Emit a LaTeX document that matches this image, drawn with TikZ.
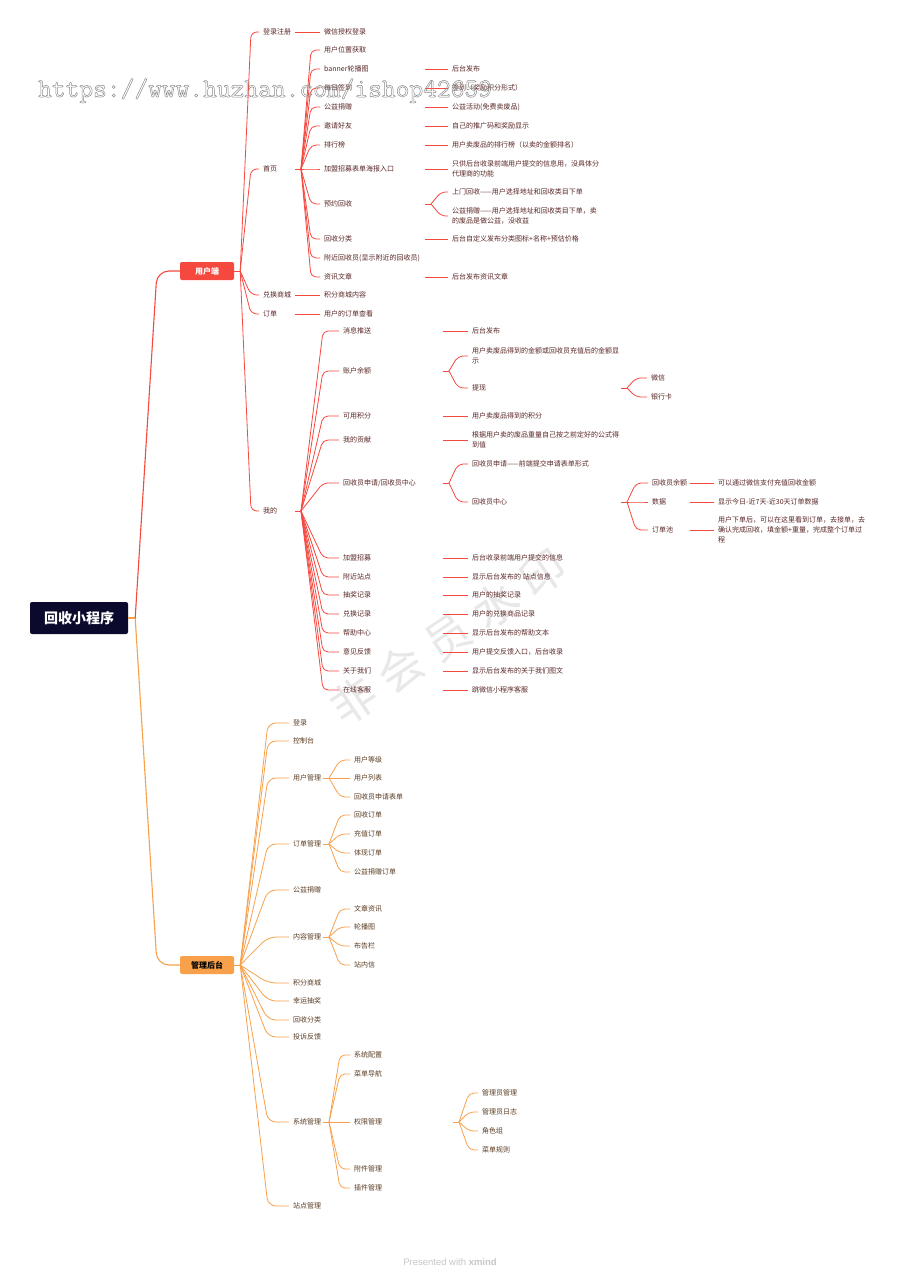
\documentclass[tikz,border=0pt]{standalone}
\usepackage{fontspec}
\setmainfont{Noto Sans CJK SC}
\newfontfamily\footfont{Liberation Sans}
\definecolor{ured}{HTML}{F5483F}
\definecolor{aora}{HTML}{F8A04A}
\definecolor{rootc}{HTML}{0B0A2C}
\definecolor{utext}{HTML}{5A2626}
\definecolor{atext}{HTML}{5A3C22}
\definecolor{wmc}{HTML}{E8E8E8}
\newcommand\mmstub[3]{\draw[#1] (#2 |- #3.west) -- ++(6,0) coordinate (#3-s);}
\newcommand\mmfan[4]{\draw[rounded corners=5pt,#1] (#2-s) -- (#3 |- #4.west) -- ([xshift=-4pt]#4.west);}
\newcommand\mmlink[4]{\draw[#1] (#2 |- #3.west) -- ([xshift=-4pt]#4.west);}
\begin{document}
\begin{tikzpicture}[x=1pt,y=-1pt,
  ut/.style={anchor=west,inner sep=0pt,text=utext,font=\fontsize{7}{10}\selectfont,align=left},
  adt/.style={anchor=west,inner sep=0pt,text=atext,font=\fontsize{7}{10}\selectfont,align=left},
  ul/.style={draw=ured,line width=0.8pt},
  al/.style={draw=aora,line width=0.8pt},
  lone/.style={inner sep=0pt,rounded corners=2pt,font=\fontsize{8}{8}\selectfont\bfseries,minimum width=54pt,minimum height=18pt}
]
\fill[white] (0,0) rectangle (900,1274);
\useasboundingbox (0,0) rectangle (900,1274);

% background watermark
\node[rotate=34,text=wmc,font=\fontsize{45}{45}\selectfont,inner sep=0pt] (wm2) at (448,637) {非\hspace{12pt}会\hspace{12pt}员\hspace{12pt}水\hspace{12pt}印};

% columns
\coordinate (rb) at (157,0);
\coordinate (bU1) at (251,0);
\coordinate (cU2) at (295,0);
\coordinate (bSY) at (311,0);
\coordinate (bWD) at (323,0);
\coordinate (cSY3) at (425,0);
\coordinate (bSY3) at (441,0);
\coordinate (cWD3) at (443,0);
\coordinate (bWD3) at (458,0);
\coordinate (cL4) at (621,0);
\coordinate (bL4) at (636,0);
\coordinate (cL5) at (690,0);
\coordinate (bA1) at (268,0);
\coordinate (cA2) at (323,0);
\coordinate (bA2) at (340,0);
\coordinate (cA3) at (453,0);
\coordinate (bA3) at (469,0);

% main nodes
\node[fill=rootc,text=white,font=\fontsize{14}{14}\selectfont\bfseries,minimum width=98pt,minimum height=32pt,rounded corners=2pt,inner sep=0pt] (root) at (79,618) {回收小程序};
\node[lone,fill=ured,text=white] (ue) at (207,271) {用户端};
\node[lone,fill=aora,text=black] (ae) at (207,965) {管理后台};

% ---------- user side ----------
\node[ut] (dl) at (263,32) {登录注册};
\node[ut] (sy) at (263,169) {首页};
\node[ut] (dh) at (263,295) {兑换商城};
\node[ut] (dd) at (263,314) {订单};
\node[ut] (wd) at (263,511) {我的};

\node[ut] (dla) at (324,32) {微信授权登录};
\node[ut] (dha) at (324,295) {积分商城内容};
\node[ut] (dda) at (324,314) {用户的订单查看};

\node[ut] (u1) at (324,50) {用户位置获取};
\node[ut] (u2) at (324,69) {banner轮播图};
\node[ut] (u3) at (324,88) {每日签到};
\node[ut] (u4) at (324,107) {公益捐赠};
\node[ut] (u5) at (324,126) {邀请好友};
\node[ut] (u6) at (324,145) {排行榜};
\node[ut] (u7) at (324,169) {加盟招募表单海报入口};
\node[ut] (u8) at (324,204) {预约回收};
\node[ut] (u9) at (324,239) {回收分类};
\node[ut] (u10) at (324,258) {附近回收员(显示附近的回收员)};
\node[ut] (u11) at (324,277) {资讯文章};

\node[ut] (u2a) at (452,69) {后台发布};
\node[ut] (u3a) at (452,88) {签到（奖励积分形式）};
\node[ut] (u4a) at (452,107) {公益活动(免费卖废品)};
\node[ut] (u5a) at (452,126) {自己的推广码和奖励显示};
\node[ut] (u6a) at (452,145) {用户卖废品的排行榜（以卖的金额排名）};
\node[ut] (u7a) at (452,169) {只供后台收录前端用户提交的信息用，没具体分\\代理商的功能};
\node[ut] (u8a) at (452,192) {上门回收——用户选择地址和回收类目下单};
\node[ut] (u8b) at (452,216) {公益捐赠——用户选择地址和回收类目下单，卖\\的废品是做公益，没收益};
\node[ut] (u9a) at (452,239) {后台自定义发布分类图标+名称+预估价格};
\node[ut] (u11a) at (452,277) {后台发布资讯文章};

\node[ut] (m1) at (343,331) {消息推送};
\node[ut] (m2) at (343,371) {账户余额};
\node[ut] (m3) at (343,416) {可用积分};
\node[ut] (m4) at (343,440) {我的贡献};
\node[ut] (m5) at (343,483) {回收员申请/回收员中心};
\node[ut] (m6) at (343,558) {加盟招募};
\node[ut] (m7) at (343,577) {附近站点};
\node[ut] (m8) at (343,595) {抽奖记录};
\node[ut] (m9) at (343,614) {兑换记录};
\node[ut] (m10) at (343,633) {帮助中心};
\node[ut] (m11) at (343,652) {意见反馈};
\node[ut] (m12) at (343,671) {关于我们};
\node[ut] (m13) at (343,690) {在线客服};

\node[ut] (m1a) at (472,331) {后台发布};
\node[ut] (m2a) at (472,356) {用户卖废品得到的金额或回收员充值后的金额显\\示};
\node[ut] (m2b) at (472,388) {提现};
\node[ut] (m3a) at (472,416) {用户卖废品得到的积分};
\node[ut] (m4a) at (472,440) {根据用户卖的废品重量自己按之前定好的公式得\\到值};
\node[ut] (m5a) at (472,464) {回收员申请——前端提交申请表单形式};
\node[ut] (m5b) at (472,502) {回收员中心};
\node[ut] (m6a) at (472,558) {后台收录前端用户提交的信息};
\node[ut] (m7a) at (472,577) {显示后台发布的 站点信息};
\node[ut] (m8a) at (472,595) {用户的抽奖记录};
\node[ut] (m9a) at (472,614) {用户的兑换商品记录};
\node[ut] (m10a) at (472,633) {显示后台发布的帮助文本};
\node[ut] (m11a) at (472,652) {用户提交反馈入口，后台收录};
\node[ut] (m12a) at (472,671) {显示后台发布的关于我们图文};
\node[ut] (m13a) at (472,690) {跳微信小程序客服};

\node[ut] (wx) at (651,378) {微信};
\node[ut] (yh) at (651,397) {银行卡};

\node[ut] (r1) at (652,483) {回收员余额};
\node[ut] (r2) at (652,502) {数据};
\node[ut] (r3) at (652,530) {订单池};
\node[ut] (r1a) at (718,483) {可以通过微信支付充值回收金额};
\node[ut] (r2a) at (718,502) {显示今日-近7天-近30天订单数据};
\node[ut] (r3a) at (718,530) {用户下单后，可以在这里看到订单，去接单，去\\确认完成回收，填金额+重量，完成整个订单过\\程};

% ---------- admin side ----------
\node[adt] (a1) at (293,723) {登录};
\node[adt] (a2) at (293,741) {控制台};
\node[adt] (a3) at (293,778) {用户管理};
\node[adt] (a4) at (293,844) {订单管理};
\node[adt] (a5) at (293,890) {公益捐赠};
\node[adt] (a6) at (293,937) {内容管理};
\node[adt] (a7) at (293,983) {积分商城};
\node[adt] (a8) at (293,1001) {幸运抽奖};
\node[adt] (a9) at (293,1020) {回收分类};
\node[adt] (a10) at (293,1037) {投诉反馈};
\node[adt] (a11) at (293,1122) {系统管理};
\node[adt] (a12) at (293,1206) {站点管理};

\node[adt] (g1) at (354,760) {用户等级};
\node[adt] (g2) at (354,778) {用户列表};
\node[adt] (g3) at (354,797) {回收员申请表单};
\node[adt] (o1) at (354,815) {回收订单};
\node[adt] (o2) at (354,834) {充值订单};
\node[adt] (o3) at (354,853) {体现订单};
\node[adt] (o4) at (354,872) {公益捐赠订单};
\node[adt] (n1) at (354,909) {文章资讯};
\node[adt] (n2) at (354,927) {轮播图};
\node[adt] (n3) at (354,946) {布告栏};
\node[adt] (n4) at (354,965) {站内信};
\node[adt] (s1) at (354,1055) {系统配置};
\node[adt] (s2) at (354,1074) {菜单导航};
\node[adt] (s3) at (354,1122) {权限管理};
\node[adt] (s4) at (354,1169) {附件管理};
\node[adt] (s5) at (354,1188) {插件管理};
\node[adt] (p1) at (482,1093) {管理员管理};
\node[adt] (p2) at (482,1112) {管理员日志};
\node[adt] (p3) at (482,1131) {角色组};
\node[adt] (p4) at (482,1150) {菜单规则};

% ---------- connectors ----------
\draw[al,line width=1.1pt] (root.east) -- ++(7,0) coordinate (root-s);
\draw[ul,line width=1.1pt,rounded corners=12pt] (root-s) -- (rb |- ue.west) -- (ue.west);
\draw[al,line width=1.1pt,rounded corners=12pt] (root-s) -- (rb |- ae.west) -- (ae.west);

\draw[ul] (ue.east) -- ++(6,0) coordinate (ue-s);
\foreach \c in {dl,sy,dh,dd,wd} {\mmfan{ul,rounded corners=6pt}{ue}{bU1}{\c}}
\mmlink{ul}{cU2}{dl}{dla}
\mmlink{ul}{cU2}{dh}{dha}
\mmlink{ul}{cU2}{dd}{dda}
\mmstub{ul}{cU2}{sy}
\foreach \c in {u1,u2,u3,u4,u5,u6,u7,u8,u9,u10,u11} {\mmfan{ul}{sy}{bSY}{\c}}
\mmlink{ul}{cSY3}{u2}{u2a}
\mmlink{ul}{cSY3}{u3}{u3a}
\mmlink{ul}{cSY3}{u4}{u4a}
\mmlink{ul}{cSY3}{u5}{u5a}
\mmlink{ul}{cSY3}{u6}{u6a}
\mmlink{ul}{cSY3}{u7}{u7a}
\mmlink{ul}{cSY3}{u9}{u9a}
\mmlink{ul}{cSY3}{u11}{u11a}
\mmstub{ul}{cSY3}{u8}
\mmfan{ul}{u8}{bSY3}{u8a}
\mmfan{ul}{u8}{bSY3}{u8b}

\mmstub{ul}{cU2}{wd}
\foreach \c in {m1,m2,m3,m4,m5,m6,m7,m8,m9,m10,m11,m12,m13} {\mmfan{ul}{wd}{bWD}{\c}}
\mmlink{ul}{cWD3}{m1}{m1a}
\mmlink{ul}{cWD3}{m3}{m3a}
\mmlink{ul}{cWD3}{m4}{m4a}
\mmlink{ul}{cWD3}{m6}{m6a}
\mmlink{ul}{cWD3}{m7}{m7a}
\mmlink{ul}{cWD3}{m8}{m8a}
\mmlink{ul}{cWD3}{m9}{m9a}
\mmlink{ul}{cWD3}{m10}{m10a}
\mmlink{ul}{cWD3}{m11}{m11a}
\mmlink{ul}{cWD3}{m12}{m12a}
\mmlink{ul}{cWD3}{m13}{m13a}
\mmstub{ul}{cWD3}{m2}
\mmfan{ul}{m2}{bWD3}{m2a}
\mmfan{ul}{m2}{bWD3}{m2b}
\mmstub{ul}{cWD3}{m5}
\mmfan{ul}{m5}{bWD3}{m5a}
\mmfan{ul}{m5}{bWD3}{m5b}
\mmstub{ul}{cL4}{m2b}
\mmfan{ul}{m2b}{bL4}{wx}
\mmfan{ul}{m2b}{bL4}{yh}
\mmstub{ul}{cL4}{m5b}
\mmfan{ul}{m5b}{bL4}{r1}
\mmfan{ul}{m5b}{bL4}{r2}
\mmfan{ul}{m5b}{bL4}{r3}
\mmlink{ul}{cL5}{r1}{r1a}
\mmlink{ul}{cL5}{r2}{r2a}
\mmlink{ul}{cL5}{r3}{r3a}

\draw[al] (ae.east) -- ++(6,0) coordinate (ae-s);
\foreach \c in {a1,a2,a3,a4,a5,a6,a7,a8,a9,a10,a11,a12} {\mmfan{al,rounded corners=8pt}{ae}{bA1}{\c}}
\mmstub{al}{cA2}{a3}
\foreach \c in {g1,g2,g3} {\mmfan{al}{a3}{bA2}{\c}}
\mmstub{al}{cA2}{a4}
\foreach \c in {o1,o2,o3,o4} {\mmfan{al}{a4}{bA2}{\c}}
\mmstub{al}{cA2}{a6}
\foreach \c in {n1,n2,n3,n4} {\mmfan{al}{a6}{bA2}{\c}}
\mmstub{al}{cA2}{a11}
\foreach \c in {s1,s2,s3,s4,s5} {\mmfan{al}{a11}{bA2}{\c}}
\mmstub{al}{cA3}{s3}
\foreach \c in {p1,p2,p3,p4} {\mmfan{al}{s3}{bA3}{\c}}

% footer
\node[font=\footfont\fontsize{9.5}{10}\selectfont,text=black!22,inner sep=0pt] (ft) at (450,1262) {Presented with \textbf{xmind}};

% overlay watermark
\node[anchor=base west,inner sep=0pt,font=\fontsize{26.7}{27}\ttfamily,text=black!45] (wm1) at (38,97) {\special{pdf:literal direct 1 Tr 0.5 w}https://www.huzhan.com/ishop42659\special{pdf:literal direct 0 Tr}};
\end{tikzpicture}
\end{document}
